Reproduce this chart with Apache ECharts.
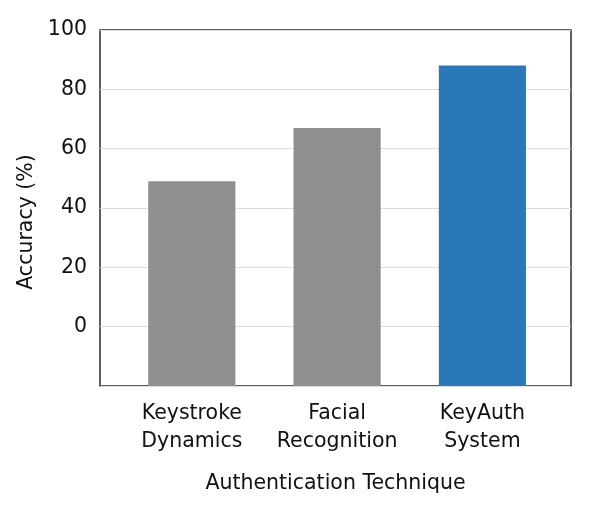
<!DOCTYPE html>
<html>
<head>
<meta charset="utf-8">
<script src="https://cdn.jsdelivr.net/npm/echarts@6/dist/echarts.min.js"></script>
<style>
html,body{margin:0;padding:0;background:#fff;}
#chart{width:599px;height:518px;}
</style>
</head>
<body>
<div id="chart"></div>
<script>
// Data
const categories = ["Keystroke Dynamics", "Facial Recognition", "KeyAuth System"];
const accuracy = [49, 67, 88];
const yTicks = [0, 20, 40, 60, 80, 100];
const barColors = ["#8f8f8f", "#8f8f8f", "#2a78b8"];

const Y_MIN = -20, Y_MAX = 100;
const FONT = "DejaVu Sans";
const FS = 20.5;
const TXT = '#111111';

const chart = echarts.init(document.getElementById('chart'), null, {renderer: 'canvas'});
chart.setOption({
  animation: false,
  backgroundColor: '#ffffff',
  grid: {
    left: 100, right: 28, top: 30, bottom: 132,
    show: true, borderColor: '#2b2b2b', borderWidth: 1.5, backgroundColor: 'transparent'
  },
  xAxis: {
    type: 'value',
    min: -0.632, max: 2.61,
    name: 'Authentication Technique',
    nameLocation: 'middle',
    nameGap: 87,
    nameTextStyle: {fontFamily: FONT, fontSize: FS, color: TXT},
    axisLine: {show: false},
    axisTick: {show: false},
    splitLine: {show: false},
    axisLabel: {
      customValues: categories.map((c, i) => i),
      formatter: v => categories[Math.round(v)].replace(' ', '\n'),
      fontFamily: FONT, fontSize: FS, color: TXT,
      lineHeight: 28.7, margin: 13
    }
  },
  yAxis: {
    type: 'value',
    min: Y_MIN, max: Y_MAX, interval: 20,
    name: 'Accuracy (%)',
    nameLocation: 'middle',
    nameGap: 55,
    nameTextStyle: {fontFamily: FONT, fontSize: FS, color: TXT, padding: [0, 28, 0, 0]},
    axisLine: {show: false},
    axisTick: {show: false},
    splitLine: {show: true, lineStyle: {color: '#dcdcdc', width: 1}},
    axisLabel: {
      formatter: v => (yTicks.indexOf(v) >= 0 ? String(v) : ''),
      fontFamily: FONT, fontSize: FS, color: TXT, margin: 13,
      padding: [5, 0, 0, 0]
    }
  },
  series: [{
    type: 'custom',
    data: accuracy.map((v, i) => [i, v]),
    renderItem: function (params, api) {
      const x = api.value(0), y = api.value(1);
      const bottom = api.coord([x, Y_MIN]);
      const top = api.coord([x, y]);
      const w = api.size([0.6, 0])[0];
      return {
        type: 'rect',
        shape: {x: top[0] - w / 2, y: top[1], width: w, height: bottom[1] - top[1]},
        style: {fill: barColors[params.dataIndex]}
      };
    }
  }]
});
</script>
</body>
</html>
